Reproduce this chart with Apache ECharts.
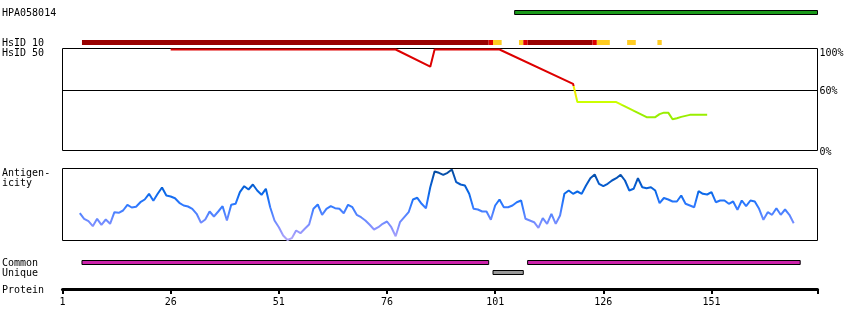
<!DOCTYPE html>
<html>
<head>
<meta charset="utf-8">
<script src="https://cdn.jsdelivr.net/npm/echarts@6/dist/echarts.min.js"></script>
<style>html,body{margin:0;padding:0;background:#fff}#c{width:850px;height:330px}</style>
</head>
<body>
<div id="c"></div>
<script>
// ---- data ----
const trackLabels = ['HPA058014', 'HsID 10', 'HsID 50', 'Antigen-', 'icity', 'Common', 'Unique', 'Protein'];
const proteinTicks = [1, 26, 51, 76, 101, 126, 151];
const proteinEnd = 175.5;
// segments: [startResidue, endResidue]
const hpaSegments = [[106, 175]];
// HsID 10 segments: [start, end, level] level 2 = dark red, 1 = red, 0 = yellow
const hsid10Segments = [
  [6, 99, 2], [100, 100, 1], [101, 102, 0], [107, 107, 0], [108, 108, 1],
  [109, 123, 2], [124, 124, 1], [125, 127, 0], [132, 133, 0], [139, 139, 0]
];
// HsID 50 identity (%) by residue
const hsid50Residues = [26, 78, 86, 87, 102, 119, 120, 129, 136, 138, 139, 140, 141, 142, 143, 144, 146, 150];
const hsid50Values =   [100, 100, 83, 100, 100, 66, 48, 48, 33, 33, 36, 37.5, 37.5, 31, 32, 33.3, 35.3, 35.3];
const hsid50Ticks = [0, 60, 100];
// Antigenicity: residues 5..170
const antigenStart = 5;
const antigenValues = [
  27.3, 21.7, 19.3, 14.3, 21.7, 15.7, 21, 16.7, 28.3, 27.7,
  30, 35.7, 33, 33.7, 38.3, 41, 46.7, 39.7, 46.7, 53,
  45, 44, 42.3, 37.7, 35, 34, 31.7, 26.7, 17.7, 21,
  29, 24, 29, 34.3, 20, 35.7, 36.7, 48.3, 54.3, 51,
  56, 50, 45.7, 51.7, 33.3, 20, 13.3, 5, 0.5, 2.3,
  10, 7.3, 11.7, 16, 31.7, 36, 25.7, 31.7, 34.3, 32.3,
  31.7, 27.3, 35.7, 33.3, 25.7, 23.3, 20, 15.7, 11, 13.3,
  16.7, 19, 13.3, 4.3, 18.3, 23.3, 28.3, 41, 42.7, 36.7,
  32.3, 53.3, 69, 67.7, 65.7, 67.7, 71, 58.3, 56, 55,
  46.7, 31.7, 31, 29, 29, 20.7, 35, 41, 33.3, 33.3,
  35, 38.3, 40, 21.7, 20, 18.3, 12.7, 22.3, 16.7, 26.7,
  16.7, 25, 46.7, 50, 46.7, 49, 46.7, 55, 62.3, 66,
  56.7, 54.3, 56.7, 60, 62.3, 65.7, 60, 50, 51.7, 62.3,
  53.3, 52.3, 53.3, 50, 37.3, 42.5, 41, 39, 39, 45,
  36.7, 35, 33.3, 49.3, 46.7, 46, 48.3, 38.3, 40, 40,
  36.7, 39, 30.7, 40, 34.3, 40, 39, 31.7, 20.7, 28.3,
  25.7, 32.3, 25.7, 31, 25.7, 17.3
];
const commonSegments = [[6, 99], [109, 171]];
const uniqueSegments = [[101, 107]];

// ---- chart ----
const FONT = '10px "DejaVu Sans Mono"';
const hsidColors = ['#ffcc22', '#dd0000', '#990000'];
function segRenderer(fillFn, stroke) {
  return function (params, api) {
    const s = api.value(0) - 0.5, e = api.value(1) + 0.5;
    const p0 = api.coord([s, 1]);
    const p1 = api.coord([e, 0]);
    return {
      type: 'rect',
      shape: { x: p0[0], y: p0[1], width: p1[0] - p0[0], height: p1[1] - p0[1] },
      style: { fill: fillFn(api), stroke: stroke || null, lineWidth: stroke ? 1 : 0 }
    };
  };
}
const L = 62.5, W = 755;
const grids = [
  { left: L, width: W, top: 10.5, height: 4 },
  { left: L, width: W, top: 40, height: 5 },
  { left: L, width: W, top: 48.5, height: 102, show: true, borderColor: '#000', borderWidth: 1, backgroundColor: 'transparent' },
  { left: L, width: W, top: 168.5, height: 72, show: true, borderColor: '#000', borderWidth: 1, backgroundColor: 'transparent' },
  { left: L, width: W, top: 260.5, height: 4 },
  { left: L, width: W, top: 270.5, height: 4 },
  { left: L, width: W, top: 279, height: 10 }
];
const xAxes = grids.map((g, i) => ({
  type: 'value', gridIndex: i, min: 1, max: proteinEnd, show: i === 6,
  position: 'bottom', splitLine: { show: false },
  axisLine: { show: i === 6, lineStyle: { color: '#000', width: 3 } },
  axisTick: { show: i === 6, customValues: proteinTicks.concat([proteinEnd]), length: 5, lineStyle: { color: '#000', width: 2 } },
  axisLabel: { show: i === 6, customValues: proteinTicks, margin: 8, color: '#000', fontFamily: 'DejaVu Sans Mono', fontSize: 10 }
}));
const yAxes = grids.map((g, i) => {
  if (i === 2) {
    return {
      type: 'value', gridIndex: 2, min: 0, max: 101, position: 'right',
      axisLine: { show: false }, axisTick: { show: false }, splitLine: { show: false },
      axisLabel: {
        customValues: hsid50Ticks, margin: 2, color: '#000', fontFamily: 'DejaVu Sans Mono', fontSize: 10,
        formatter: v => v === 100 ? '{t|' + v + '%}' : '{n|' + v + '%}',
        rich: {
          t: { padding: [7, 0, 0, 0], fontFamily: 'DejaVu Sans Mono', fontSize: 10, color: '#000' },
          n: { padding: [3, 0, 0, 0], fontFamily: 'DejaVu Sans Mono', fontSize: 10, color: '#000' }
        }
      }
    };
  }
  if (i === 3) return { type: 'value', gridIndex: 3, min: 0, max: 72, show: false, splitLine: { show: false } };
  return { type: 'value', gridIndex: i, min: 0, max: 1, show: false, splitLine: { show: false } };
});

const labelY = [13.5, 43, 53, 173.5, 183.5, 263.5, 273.5, 290.5];
const graphics = trackLabels.map((t, i) => ({
  type: 'text', x: 2, y: labelY[i], silent: true,
  style: { text: t, font: FONT, fill: '#000', verticalAlign: 'middle' }
}));

const option = {
  animation: false,
  backgroundColor: '#fff',
  grid: grids,
  xAxis: xAxes,
  yAxis: yAxes,
  graphic: graphics,
  visualMap: [
    {
      show: false, type: 'piecewise', seriesIndex: 2, dimension: 1,
      pieces: [
        { gt: 64, color: '#dd0000' },
        { gt: 52, lte: 64, color: '#eeee00' },
        { gt: 45, lte: 52, color: '#ccff00' },
        { gt: 39, lte: 45, color: '#b4f400' },
        { lte: 39, color: '#99ee00' }
      ]
    },
    {
      show: false, type: 'continuous', seriesIndex: 3, dimension: 1, min: 0, max: 72,
      inRange: { color: ['#b4a8f8', '#8a92ff', '#5c86ff', '#2c78ff', '#0a68e8', '#0656c0', '#064a98'] }
    }
  ],
  series: [
    {
      type: 'custom', xAxisIndex: 0, yAxisIndex: 0, silent: true,
      renderItem: segRenderer(() => '#1a9a1a', '#000'),
      data: hpaSegments
    },
    {
      type: 'custom', xAxisIndex: 1, yAxisIndex: 1, silent: true,
      renderItem: segRenderer(api => hsidColors[api.value(2)]),
      data: hsid10Segments
    },
    {
      type: 'line', xAxisIndex: 2, yAxisIndex: 2, silent: true, symbol: 'none',
      lineStyle: { width: 2 }, z: 5,
      data: hsid50Residues.map((r, i) => [r, hsid50Values[i]]),
      markLine: {
        silent: true, symbol: 'none', label: { show: false },
        lineStyle: { color: '#000', width: 1, type: 'solid' },
        data: [{ yAxis: 60 }]
      }
    },
    {
      type: 'line', xAxisIndex: 3, yAxisIndex: 3, silent: true, symbol: 'none',
      lineStyle: { width: 2 },
      data: antigenValues.map((v, i) => [antigenStart + i, v])
    },
    {
      type: 'custom', xAxisIndex: 4, yAxisIndex: 4, silent: true,
      renderItem: segRenderer(() => '#cc22aa', '#000'),
      data: commonSegments
    },
    {
      type: 'custom', xAxisIndex: 5, yAxisIndex: 5, silent: true,
      renderItem: segRenderer(() => '#999999', '#000'),
      data: uniqueSegments
    }
  ]
};
const chart = echarts.init(document.getElementById('c'), null, { renderer: 'canvas' });
chart.setOption(option);
</script>
</body>
</html>
